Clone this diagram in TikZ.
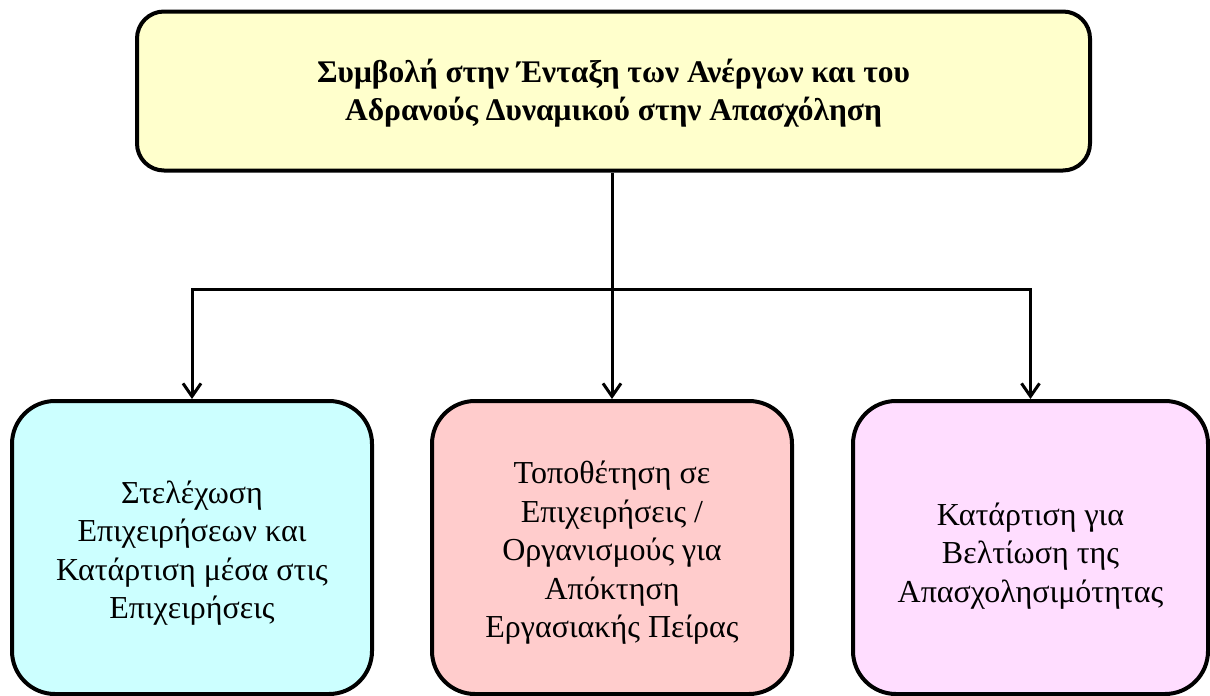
\documentclass[tikz,border=0pt]{standalone}
\usepackage{fontspec}
\setmainfont{Liberation Serif}
\usetikzlibrary{arrows.meta}
\definecolor{topfill}{HTML}{FFFFCC}
\definecolor{cyanfill}{HTML}{CCFFFF}
\definecolor{pinkfill}{HTML}{FFCCCC}
\definecolor{violetfill}{HTML}{FFDDFF}
\tikzset{
  topbox/.style={draw=black, line width=4pt, rounded corners=27pt, fill=topfill,
    minimum width=953pt, minimum height=159pt, inner sep=0pt},
  toptext/.style={align=center, inner sep=0pt,
    font=\fontsize{31.5}{38}\selectfont\bfseries},
  subbox/.style={draw=black, line width=4pt, rounded corners=43pt,
    minimum height=293pt, inner sep=0pt},
  subtext/.style={align=center, inner sep=0pt,
    font=\fontsize{32}{38.5}\selectfont},
  link/.style={line width=3pt, draw=black},
  arr/.style={link, -{Straight Barb[length=13pt,width=18pt,line width=3pt]}}
}
\begin{document}
\begin{tikzpicture}[x=1pt,y=-1pt]
\useasboundingbox (0,0) rectangle (1210,696);
\node[topbox] (top) at (613.5,91) {};
\node[toptext] (toptxt) at (613.5,93) {Συμβολή στην Ένταξη των Ανέργων και του\\Αδρανούς Δυναμικού στην Απασχόληση};
\node[subbox, fill=cyanfill, minimum width=360pt] (b1) at (192,547.5) {};
\node[subbox, fill=pinkfill, minimum width=360pt] (b2) at (612,547.5) {};
\node[subbox, fill=violetfill, minimum width=355pt] (b3) at (1030.5,547.5) {};
\node[subtext] (t1) at (192,553) {Στελέχωση\\Επιχειρήσεων και\\Κατάρτιση μέσα στις\\Επιχειρήσεις};
\node[subtext] (t2) at (612,553) {Τοποθέτηση σε\\Επιχειρήσεις /\\Οργανισμούς για\\Απόκτηση\\Εργασιακής Πείρας};
\node[subtext] (t3) at (1030.5,556) {Κατάρτιση για\\Βελτίωση της\\Απασχολησιμότητας};
\coordinate (hub) at (612,289);
\draw[link] (top.south -| hub) -- (hub);
\draw[arr] (hub) -| (b1.north);
\draw[arr] (hub) -- (b2.north);
\draw[arr] (hub) -| (b3.north);
\end{tikzpicture}
\end{document}
